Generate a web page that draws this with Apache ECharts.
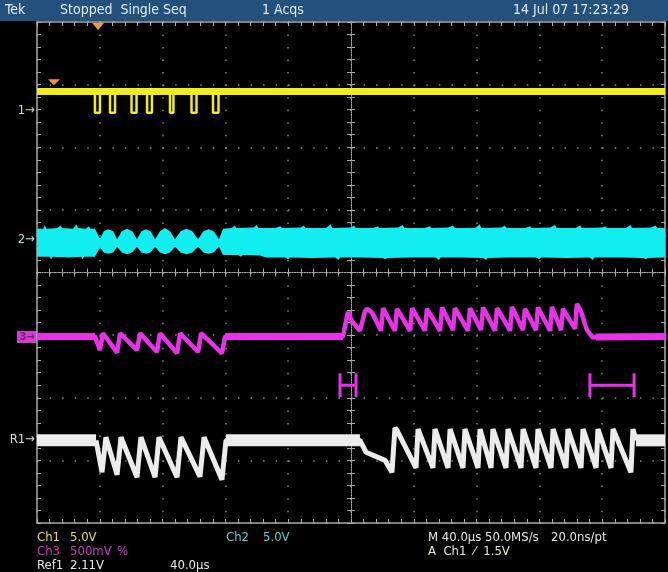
<!DOCTYPE html>
<html>
<head>
<meta charset="utf-8">
<script src="https://cdn.jsdelivr.net/npm/echarts@6.0.0/dist/echarts.min.js"></script>
<style>
  html, body { margin: 0; padding: 0; background: #000; }
  #scope { width: 668px; height: 572px; }
</style>
</head>
<body>
<div id="scope"></div>
<script>
// Screen: 10 horizontal divisions at 40 µs/div, 8 vertical divisions (values in divisions)
const timeRange = [0, 400];
const divRange = [-4, 4];
const usPerDiv = 40;

// Channel 1 (yellow): high level with short low-going pulses
const ch1Level = 2.89;
const ch1Low = 2.55;
const ch1Pulses = [[36.9, 40.1], [46.5, 49.7], [60.2, 63.4], [70.1, 73.2], [84.7, 86.9], [98.4, 101.6], [112.1, 115.6]];

// Channel 2 (cyan): noise band, upper and lower envelope
const ch2Upper = [
  [0, 0.70], [4, 0.70], [5, 0.76], [6, 0.70], [13, 0.71], [15, 0.75], [16, 0.71], [23, 0.70], [25, 0.77], [26, 0.71],
  [31, 0.70], [33, 0.74], [34, 0.70], [36.9, 0.70],
  [40.1, 0.54], [42.5, 0.66], [45.3, 0.69], [48.5, 0.66], [51.0, 0.53],
  [54.0, 0.66], [57.3, 0.70], [60.6, 0.66], [63.7, 0.53],
  [66.5, 0.66], [69.4, 0.69], [72.3, 0.66], [75.2, 0.53],
  [78.3, 0.66], [81.5, 0.71], [84.7, 0.66], [87.9, 0.53],
  [91.5, 0.66], [95.2, 0.70], [98.9, 0.66], [102.6, 0.53],
  [106.0, 0.66], [109.2, 0.69], [112.5, 0.66], [115.9, 0.53],
  [118.5, 0.70], [124, 0.71], [126, 0.75], [127, 0.71], [138, 0.72], [140, 0.76], [141, 0.71], [152, 0.71], [155, 0.74],
  [156, 0.71], [168, 0.72], [170, 0.75], [171, 0.71], [184, 0.71], [187, 0.77], [188, 0.71], [200, 0.72], [202, 0.75],
  [203, 0.71], [214, 0.71], [217, 0.74], [218, 0.71], [230, 0.72], [233, 0.76], [234, 0.71], [247, 0.71], [250, 0.74],
  [251, 0.71], [262, 0.72], [265, 0.75], [266, 0.71], [279, 0.71], [282, 0.77], [283, 0.71], [296, 0.72], [298, 0.75],
  [299, 0.71], [311, 0.71], [314, 0.74], [315, 0.71], [327, 0.72], [330, 0.76], [331, 0.71], [343, 0.71], [346, 0.75],
  [347, 0.71], [360, 0.72], [362, 0.74], [363, 0.71], [375, 0.71], [378, 0.76], [379, 0.71], [391, 0.72], [394, 0.75],
  [395, 0.71], [400, 0.71]
];
const ch2Lower = [
  [0, 0.25], [8, 0.25], [9, 0.21], [10, 0.25], [20, 0.24], [28, 0.25], [29, 0.21], [30, 0.25], [36.9, 0.25],
  [40.1, 0.40], [42.5, 0.32], [45.3, 0.30], [48.5, 0.32], [51.0, 0.41],
  [54.0, 0.32], [57.3, 0.29], [60.6, 0.32], [63.7, 0.41],
  [66.5, 0.32], [69.4, 0.30], [72.3, 0.32], [75.2, 0.41],
  [78.3, 0.32], [81.5, 0.29], [84.7, 0.32], [87.9, 0.41],
  [91.5, 0.32], [95.2, 0.29], [98.9, 0.32], [102.6, 0.41],
  [106.0, 0.32], [109.2, 0.30], [112.5, 0.32], [115.9, 0.41],
  [118.5, 0.28], [128, 0.28], [130, 0.25], [131, 0.28], [142, 0.27], [146, 0.24], [158, 0.24], [160, 0.21], [161, 0.24],
  [175, 0.23], [190, 0.24], [192, 0.20], [193, 0.24], [207, 0.24], [220, 0.23], [222, 0.21], [223, 0.23], [240, 0.24],
  [254, 0.24], [256, 0.20], [257, 0.24], [270, 0.24], [284, 0.23], [286, 0.20], [287, 0.23], [300, 0.24], [318, 0.24],
  [320, 0.21], [321, 0.24], [338, 0.23], [352, 0.24], [354, 0.20], [355, 0.24], [372, 0.24], [386, 0.23], [388, 0.21],
  [389, 0.23], [400, 0.24]
];

// Channel 3 (magenta): flat sections plus the detailed trace
const ch3Flat = [[[0, -1.02], [36.9, -1.02]], [[119.8, -1.02], [194.9, -1.02]], [[356.0, -1.03], [400, -1.02]]];
const ch3Trace = [
  [0, -1.02], [36.9, -1.02], [40.1, -1.24], [42.0, -0.97], [51.0, -1.28], [52.9, -0.97], [63.7, -1.24], [65.6, -0.97],
  [76.4, -1.27], [78.3, -0.97], [89.2, -1.29], [91.1, -0.97], [102.6, -1.27], [104.5, -0.97], [117.8, -1.29], [119.8, -1.02],
  [194.9, -1.02], [196.2, -0.85], [198.1, -0.63], [200.6, -0.78], [205.7, -0.93], [208.9, -0.62], [210.2, -0.58],
  [213.4, -0.64], [219.1, -0.93], [220.4, -0.57], [228.0, -0.93], [229.3, -0.58], [237.6, -0.93], [238.9, -0.57],
  [247.1, -0.93], [248.4, -0.58], [256.7, -0.93], [258.0, -0.56], [265.0, -0.92], [266.2, -0.57], [274.5, -0.93],
  [275.8, -0.57], [282.8, -0.92], [284.1, -0.56], [291.7, -0.93], [293.0, -0.57], [301.3, -0.93], [302.5, -0.55],
  [309.6, -0.92], [310.8, -0.58], [317.8, -0.92], [319.1, -0.56], [326.8, -0.93], [328.0, -0.55], [333.8, -0.92],
  [335.0, -0.58], [342.7, -0.90], [343.9, -0.50], [346.5, -0.62], [350.3, -0.92], [354.1, -1.04], [358.6, -1.02],
  [400, -1.02]
];

// Reference 1 (white): wide flat sections plus the detailed trace
const r1Flat = [[[0, -2.68], [37.6, -2.68]], [[120.4, -2.68], [205.7, -2.68]], [[381.5, -2.68], [400, -2.68]]];
const r1Trace = [
  [37.6, -2.68], [41.4, -3.19], [43.9, -2.63], [51.0, -3.23], [53.5, -2.63], [63.7, -3.27], [66.2, -2.63],
  [75.2, -3.27], [77.7, -2.63], [89.2, -3.27], [91.7, -2.63], [103.8, -3.26], [106.4, -2.63], [117.8, -3.31],
  [120.4, -2.68], [205.7, -2.68], [209.6, -2.87], [221.7, -3.00], [226.1, -3.19], [228.0, -2.48], [229.3, -2.52],
  [241.4, -3.12], [242.7, -2.50], [252.2, -3.12], [253.5, -2.50], [261.8, -3.12], [263.1, -2.50], [271.3, -3.12],
  [272.6, -2.50], [280.9, -3.12], [282.2, -2.50], [289.2, -3.12], [290.4, -2.50], [298.7, -3.12], [300.0, -2.50],
  [308.3, -3.12], [309.6, -2.50], [317.8, -3.12], [319.1, -2.50], [327.4, -3.12], [328.7, -2.50], [336.9, -3.12],
  [338.2, -2.50], [346.5, -3.12], [347.8, -2.50], [356.1, -3.12], [357.3, -2.50], [365.6, -3.12], [366.9, -2.50],
  [378.3, -3.19], [379.6, -2.50], [381.5, -2.68]
];

// Channel ground markers (divisions), trigger markers, Ch3 brackets
const groundMarks = { ch1: 2.59, ch2: 0.52, ch3: -1.03, r1: -2.67 };
const triggerTime = 38.9;
const triggerMark = [10.8, 2.99];
const ch3Brackets = [[193.0, 203.2], [352.2, 380.3]];
const bracketLevel = -1.80;
const bracketHalf = 0.19;

// Readout text
const headerLabels = ['Tek', 'Stopped  Single Seq', '1 Acqs', '14 Jul 07 17:23:29'];
const readoutRow1 = ['Ch1', '5.0V', 'Ch2', '5.0V', 'M 40.0\u00b5s 50.0MS/s', '20.0ns/pt'];
const readoutRow2 = ['Ch3', '500mV', '%', 'A  Ch1  \u2044  1.5V'];
const readoutRow3 = ['Ref1', '2.11V', '40.0\u00b5s'];

const C1 = '#f2ec1e', C2 = '#12eef0', C3 = '#e832e8', CR = '#ececec';
const GRAT = '#a9a9a9';
const FONT = "'Liberation Sans Narrow','DejaVu Sans Condensed',sans-serif";

const chart = echarts.init(document.getElementById('scope'), null, { renderer: 'canvas' });

function axisBase(extra) {
  return Object.assign({
    type: 'value',
    axisLabel: { show: false },
    splitLine: { show: false },
    axisTick: { show: true, inside: true, length: 4, lineStyle: { color: GRAT, width: 1 } },
    minorTick: { show: true, splitNumber: 5, length: 4, lineStyle: { color: GRAT, width: 1 } },
    axisLine: { show: true, onZero: false, lineStyle: { color: GRAT, width: 1.5 } },
    silent: true
  }, extra);
}
const xRange = { min: timeRange[0], max: timeRange[1], interval: usPerDiv };
const yRange = { min: divRange[0], max: divRange[1], interval: 1 };
const centerLine = { show: true, onZero: false, lineStyle: { color: GRAT, width: 1, type: [1, 1.5] } };

const pulseLine = [];
ch1Pulses.forEach(([tf, tr]) => {
  pulseLine.push([tf, ch1Level], [tf, ch1Low], [tr, ch1Low], [tr, ch1Level]);
});

function traceLine(data, color, width) {
  return {
    type: 'line', data, symbol: 'none', silent: true, animation: false,
    lineStyle: { color, width, join: 'bevel' }, clip: true
  };
}

const option = {
  backgroundColor: '#000',
  animation: false,
  grid: { left: 37, top: 22, width: 628, height: 501, containLabel: false },
  xAxis: [
    axisBase(Object.assign({ position: 'bottom',
      splitLine: { show: true, lineStyle: { color: '#8c8c8c', width: 1.5, type: [1.5, 11.03] } } }, xRange)),
    axisBase(Object.assign({ position: 'top' }, xRange)),
    axisBase(Object.assign({ position: 'bottom', offset: -250.5, axisLine: centerLine }, xRange)),
    axisBase(Object.assign({ position: 'bottom', offset: -250.5, axisLine: centerLine,
      axisTick: { show: true, inside: false, length: 4, lineStyle: { color: GRAT } } }, xRange))
  ],
  yAxis: [
    axisBase(Object.assign({ position: 'left',
      splitLine: { show: true, lineStyle: { color: '#8c8c8c', width: 1.5, type: [1.5, 11.06] } } }, yRange)),
    axisBase(Object.assign({ position: 'right' }, yRange)),
    axisBase(Object.assign({ position: 'left', offset: -314, axisLine: centerLine }, yRange)),
    axisBase(Object.assign({ position: 'left', offset: -314, axisLine: centerLine,
      axisTick: { show: true, inside: false, length: 4, lineStyle: { color: GRAT } } }, yRange))
  ],
  series: [
    {
      type: 'custom', name: 'Ch2', data: [[0, 0]], silent: true, clip: true,
      renderItem(params, api) {
        const pts = ch2Upper.map(p => api.coord(p))
          .concat(ch2Lower.slice().reverse().map(p => api.coord(p)));
        return { type: 'polygon', shape: { points: pts }, style: { fill: C2 } };
      }
    },
    traceLine([[timeRange[0], ch1Level], [timeRange[1], ch1Level]], C1, 7),
    traceLine(pulseLine, C1, 2.5),
    ...ch3Flat.map(seg => traceLine(seg, C3, 7)),
    traceLine(ch3Trace, C3, 4.5),
    ...r1Flat.map(seg => traceLine(seg, CR, 12)),
    traceLine(r1Trace, CR, 5),
    {
      type: 'custom', name: 'Ch3 brackets', data: ch3Brackets, silent: true,
      renderItem(params, api) {
        const t1 = api.value(0), t2 = api.value(1);
        const a = api.coord([t1, bracketLevel]), b = api.coord([t2, bracketLevel]);
        const top = api.coord([t1, bracketLevel + bracketHalf])[1];
        const bot = api.coord([t1, bracketLevel - bracketHalf])[1];
        const st = { stroke: C3, lineWidth: 3 };
        return {
          type: 'group', children: [
            { type: 'line', shape: { x1: a[0], y1: a[1], x2: b[0], y2: b[1] }, style: st },
            { type: 'line', shape: { x1: a[0], y1: top, x2: a[0], y2: bot }, style: st },
            { type: 'line', shape: { x1: b[0], y1: top, x2: b[0], y2: bot }, style: st }
          ]
        };
      }
    }
  ]
};
chart.setOption(option);

// Overlay: header bar, readout, channel markers
const toPx = (t, d) => chart.convertToPixel({ gridIndex: 0 }, [t, d]);
const txt = (text, x, y, fill, size, align) => ({
  type: 'text', x, y, silent: true,
  style: { text, fill, font: (size || 13) + 'px ' + FONT, verticalAlign: 'middle', align: align || 'left' }
});

const g = [];
g.push({ type: 'rect', shape: { x: 0, y: 0, width: 668, height: 21 }, style: { fill: '#24507c' }, silent: true });
[5, 60, 262, 513].forEach((x, i) => g.push(txt(headerLabels[i], x, 10.5, '#e4e8f0', 14)));

const r1Colors = ['#e6dc5a', '#e6dc5a', '#5cd0d0', '#5cd0d0', '#e8e8e8', '#e8e8e8'];
[37, 70, 226, 263, 428, 551].forEach((x, i) => g.push(txt(readoutRow1[i], x, 538, r1Colors[i])));
const r2Colors = ['#c83cc8', '#c83cc8', '#c83cc8', '#e8e8d8'];
[37, 70, 117, 428].forEach((x, i) => g.push(txt(readoutRow2[i], x, 552, r2Colors[i])));
[37, 70, 170].forEach((x, i) => g.push(txt(readoutRow3[i], x, 566, '#e8e8e8')));

// trigger position marker on the top edge
const tp = toPx(triggerTime, divRange[1]);
g.push({ type: 'polygon', silent: true, shape: { points: [[tp[0] - 6, tp[1] + 1], [tp[0] + 6, tp[1] + 1], [tp[0], tp[1] + 8]] },
  style: { fill: '#f29a38' } });
// trigger level marker
const tl = toPx(triggerMark[0], triggerMark[1]);
g.push({ type: 'polygon', silent: true, shape: { points: [[tl[0] - 6, tl[1] - 6], [tl[0] + 6, tl[1] - 6], [tl[0], tl[1]]] },
  style: { fill: '#f29a38' } });

// channel ground markers at the left edge
const m1 = toPx(0, groundMarks.ch1), m2 = toPx(0, groundMarks.ch2), m3 = toPx(0, groundMarks.ch3), mr = toPx(0, groundMarks.r1);
g.push(txt('1\u2192', m1[0] - 2, m1[1], '#ddd7a0', 13, 'right'));
g.push(txt('2\u2192', m2[0] - 2, m2[1], '#a8e0e0', 13, 'right'));
g.push(txt('R1\u2192', mr[0] - 2, mr[1], '#dcdcdc', 13, 'right'));
g.push({ type: 'rect', silent: true, shape: { x: m3[0] - 20, y: m3[1] - 6, width: 20, height: 12 }, style: { fill: '#d23cd2' } });
g.push({ type: 'text', silent: true, x: m3[0] - 10, y: m3[1],
  style: { text: '3\u2192', fill: '#7a1a7a', font: 'bold 11px ' + FONT, align: 'center', verticalAlign: 'middle' } });

chart.setOption({ graphic: g });
</script>
</body>
</html>
